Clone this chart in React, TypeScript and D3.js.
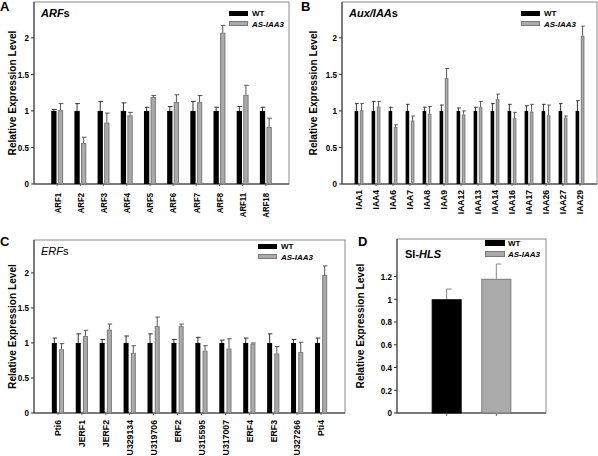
import React from "react";
import * as d3 from "d3";

const arfCats = ["ARF1", "ARF2", "ARF3", "ARF4", "ARF5", "ARF6", "ARF7", "ARF8", "ARF11", "ARF18"];
const arfWT = [1, 1, 1, 1, 1, 1, 1, 1, 1, 1];
const arfWTErr = [0.02, 0.1, 0.13, 0.11, 0.05, 0.06, 0.13, 0.05, 0.06, 0.05];
const arfAS = [1.01, 0.56, 0.84, 0.94, 1.19, 1.12, 1.12, 2.07, 1.22, 0.78];
const arfASErr = [0.09, 0.08, 0.13, 0.04, 0.02, 0.1, 0.09, 0.1, 0.13, 0.12];

const iaaCats = ["IAA1", "IAA4", "IAA6", "IAA7", "IAA8", "IAA9", "IAA12", "IAA13", "IAA14", "IAA16", "IAA17", "IAA26", "IAA27", "IAA29"];
const iaaWT = [1, 1, 1, 1, 1, 1, 1, 1, 1, 1, 1, 1, 1, 1];
const iaaWTErr = [0.1, 0.13, 0.05, 0.09, 0.05, 0.08, 0.04, 0.05, 0.1, 0.09, 0.07, 0.09, 0.1, 0.14];
const iaaAS = [1.01, 1.06, 0.78, 0.87, 0.96, 1.45, 0.95, 1.05, 1.16, 0.9, 0.99, 0.94, 0.91, 2.03];
const iaaASErr = [0.09, 0.07, 0.03, 0.06, 0.1, 0.13, 0.05, 0.08, 0.07, 0.08, 0.1, 0.14, 0.02, 0.13];

const erfCats = ["Pti6", "JERF1", "JERF2", "U329134", "U319706", "ERF2", "U315595", "U317007", "ERF4", "ERF3", "U327266", "Pti4"];
const erfWT = [1, 1, 1, 1, 1, 1, 1, 1, 1, 1, 1, 1];
const erfWTErr = [0.07, 0.13, 0.05, 0.1, 0.13, 0.05, 0.08, 0.04, 0.07, 0.13, 0.05, 0.07];
const erfAS = [0.91, 1.1, 1.19, 0.86, 1.24, 1.24, 0.89, 0.92, 0.99, 0.85, 0.87, 1.97];
const erfASErr = [0.08, 0.08, 0.08, 0.1, 0.13, 0.03, 0.07, 0.14, 0.01, 0.1, 0.14, 0.13];

const hlsCats = ["WT", "AS-IAA3"];
const hlsValues = [1.0, 1.18];
const hlsErr = [0.09, 0.13];

const ticksABC = [0, 0.5, 1, 1.5, 2];
const ticksD = [0, 0.2, 0.4, 0.6, 0.8, 1.0, 1.2];

const FONT = "'Liberation Sans', Arial, Helvetica, sans-serif";
const WT_COLOR = "#000000";
const AS_COLOR = "#aaaaaa";
const AS_STROKE = "#7a7a7a";

type PanelProps = {
  left: number; right: number; top: number; bottom: number; ymax: number;
  cats: string[]; wt: number[]; wtErr: number[]; as: number[]; asErr: number[];
  ticks: number[]; barW: number; gap: number; title: React.ReactNode; titleWeight: string;
  legendX: number; legendY: number; letter: string; letterX: number; letterY: number;
  yTitleX: number; labelOffset: number; labelScale: number;
};

function Panel(p: PanelProps) {
  const x = d3.scaleBand<string>().domain(p.cats).range([p.left, p.right]).paddingInner(0).paddingOuter(0.5);
  const y = d3.scaleLinear().domain([0, p.ymax]).range([p.bottom, p.top]);
  const cx = (c: string) => (x(c) as number) + x.bandwidth() / 2;
  const capW = p.barW * 0.7;
  return (
    <g fontFamily={FONT}>
      <text x={p.letterX} y={p.letterY} fontSize={13} fontWeight="bold">{p.letter}</text>
      <rect x={p.left} y={p.top} width={p.right - p.left} height={p.bottom - p.top} fill="none" stroke="#8a8a8a" strokeWidth={1} />
      <line x1={p.left} x2={p.left} y1={p.top} y2={p.bottom} stroke="#333" />
      <line x1={p.left} x2={p.right} y1={p.bottom} y2={p.bottom} stroke="#333" />
      {p.ticks.map((t) => (
        <g key={t}>
          <line x1={p.left - 3} x2={p.left} y1={y(t)} y2={y(t)} stroke="#333" />
          <text x={p.left - 5} y={y(t)} dy="0.35em" textAnchor="end" fontSize={9.5} fontWeight="bold"
            transform={`translate(${p.left - 5},0) scale(0.85,1) translate(${-(p.left - 5)},0)`}>{String(t)}</text>
        </g>
      ))}
      <text transform={`translate(${p.yTitleX},${(p.top + p.bottom) / 2}) rotate(-90) scale(0.88,1)`} textAnchor="middle" fontSize={11.5} fontWeight="bold">Relative Expression Level</text>
      {p.cats.map((c, i) => {
        const c0 = cx(c);
        const wx = c0 - p.gap / 2 - p.barW;
        const ax = c0 + p.gap / 2;
        return (
          <g key={c}>
            <line x1={c0} x2={c0} y1={p.bottom} y2={p.bottom + 2} stroke="#666" />
            <line x1={wx + p.barW / 2} x2={wx + p.barW / 2} y1={y(p.wt[i])} y2={y(p.wt[i] + p.wtErr[i])} stroke="#333" />
            <line x1={wx + p.barW / 2 - capW / 2} x2={wx + p.barW / 2 + capW / 2 + 1} y1={y(p.wt[i] + p.wtErr[i])} y2={y(p.wt[i] + p.wtErr[i])} stroke="#333" />
            <rect x={wx} y={y(p.wt[i])} width={p.barW} height={p.bottom - y(p.wt[i])} fill={WT_COLOR} />
            <line x1={ax + p.barW / 2} x2={ax + p.barW / 2} y1={y(p.as[i])} y2={y(p.as[i] + p.asErr[i])} stroke="#555" />
            <line x1={ax + p.barW / 2 - capW / 2} x2={ax + p.barW / 2 + capW / 2 + 1} y1={y(p.as[i] + p.asErr[i])} y2={y(p.as[i] + p.asErr[i])} stroke="#555" />
            <rect x={ax + 0.5} y={y(p.as[i]) + 0.5} width={p.barW - 1} height={p.bottom - y(p.as[i]) - 0.5} fill={AS_COLOR} stroke={AS_STROKE} strokeWidth={1} />
            <text transform={`translate(${c0},${p.bottom + p.labelOffset}) rotate(-90) scale(${p.labelScale},1)`} dy="0.35em" textAnchor="end" fontSize={9.5} fontWeight="bold">{c}</text>
          </g>
        );
      })}
      <text x={p.left + 7} y={p.top + 15} fontSize={11} fontWeight={p.titleWeight}>{p.title}</text>
      <rect x={p.legendX} y={p.legendY} width={19} height={5} fill={WT_COLOR} />
      <rect x={p.legendX + 0.5} y={p.legendY + 10.5} width={18} height={4} fill={AS_COLOR} stroke={AS_STROKE} />
      <text x={p.legendX + 23} y={p.legendY + 5} fontSize={8} fontWeight="bold">WT</text>
      <text x={p.legendX + 23} y={p.legendY + 16} fontSize={8} fontWeight="bold" fontStyle="italic">AS-IAA3</text>
    </g>
  );
}

function PanelD() {
  const left = 397, right = 546, top = 239, bottom = 413;
  const x = d3.scaleBand<string>().domain(hlsCats).range([left, right]).paddingInner(0).paddingOuter(0.5);
  const y = d3.scaleLinear().domain([0, 1.53]).range([bottom, top]);
  const colors = [WT_COLOR, AS_COLOR];
  const bw = 30;
  const legendX = 485, legendY = 240;
  return (
    <g fontFamily={FONT}>
      <text x={358} y={246} fontSize={13} fontWeight="bold">D</text>
      <rect x={left} y={top} width={right - left} height={bottom - top} fill="none" stroke="#8a8a8a" />
      <line x1={left} x2={left} y1={top} y2={bottom} stroke="#333" />
      <line x1={left} x2={right} y1={bottom} y2={bottom} stroke="#333" />
      {ticksD.map((t) => (
        <g key={t}>
          <line x1={left - 3} x2={left} y1={y(t)} y2={y(t)} stroke="#333" />
          <text x={left - 5} y={y(t)} dy="0.35em" textAnchor="end" fontSize={9.5} fontWeight="bold"
            transform={`translate(${left - 5},0) scale(0.85,1) translate(${-(left - 5)},0)`}>{String(t)}</text>
        </g>
      ))}
      <text transform={`translate(364,${(top + bottom) / 2}) rotate(-90) scale(0.88,1)`} textAnchor="middle" fontSize={11.5} fontWeight="bold">Relative Expression Level</text>
      {hlsCats.map((c, i) => {
        const c0 = (x(c) as number) + x.bandwidth() / 2;
        return (
          <g key={c}>
            <line x1={c0} x2={c0} y1={bottom} y2={bottom + 3} stroke="#666" />
            <line x1={c0} x2={c0} y1={y(hlsValues[i])} y2={y(hlsValues[i] + hlsErr[i])} stroke="#888" />
            <line x1={c0} x2={c0 + 5} y1={y(hlsValues[i] + hlsErr[i])} y2={y(hlsValues[i] + hlsErr[i])} stroke="#888" />
            <rect x={c0 - bw / 2 + 0.5} y={y(hlsValues[i]) + 0.5} width={bw - 1} height={bottom - y(hlsValues[i]) - 0.5} fill={colors[i]} stroke={i === 0 ? "#000" : AS_STROKE} />
          </g>
        );
      })}
      <text x={left + 8} y={top + 19} fontSize={11} fontWeight="bold">Sl-<tspan fontStyle="italic">HLS</tspan></text>
      <rect x={legendX} y={legendY} width={20} height={6} fill={WT_COLOR} />
      <rect x={legendX + 0.5} y={legendY + 11.5} width={19} height={5} fill={AS_COLOR} stroke={AS_STROKE} />
      <text x={legendX + 23} y={legendY + 6} fontSize={8} fontWeight="bold">WT</text>
      <text x={legendX + 23} y={legendY + 17} fontSize={8} fontWeight="bold" fontStyle="italic">AS-IAA3</text>
    </g>
  );
}

export default function App() {
  return (
    <svg width={598} height={456} style={{ position: "absolute", left: 0, top: 0, background: "#fff" }}>
      <rect width={598} height={456} fill="#fff" />
      <Panel left={34} right={289} top={2} bottom={184} ymax={2.49} cats={arfCats} wt={arfWT} wtErr={arfWTErr} as={arfAS} asErr={arfASErr}
        ticks={ticksABC} barW={5.3} gap={1.3} title={<><tspan fontStyle="italic">ARF</tspan>s</>} titleWeight="bold"
        legendX={229} legendY={11} letter="A" letterX={0} letterY={11} yTitleX={16} labelOffset={9} labelScale={0.82} />
      <Panel left={342} right={597} top={2} bottom={184} ymax={2.49} cats={iaaCats} wt={iaaWT} wtErr={iaaWTErr} as={iaaAS} asErr={iaaASErr}
        ticks={ticksABC} barW={3.6} gap={1.6} title={<><tspan fontStyle="italic">Aux/IAA</tspan>s</>} titleWeight="bold"
        legendX={521} legendY={11} letter="B" letterX={301} letterY={11} yTitleX={317} labelOffset={6} labelScale={0.9} />
      <Panel left={34} right={345} top={240} bottom={413} ymax={2.47} cats={erfCats} wt={erfWT} wtErr={erfWTErr} as={erfAS} asErr={erfASErr}
        ticks={ticksABC} barW={5} gap={2.2} title={<><tspan fontStyle="italic">ERF</tspan>s</>} titleWeight="normal"
        legendX={258} legendY={244} letter="C" letterX={0} letterY={246} yTitleX={16} labelOffset={7} labelScale={0.92} />
      <PanelD />
    </svg>
  );
}
